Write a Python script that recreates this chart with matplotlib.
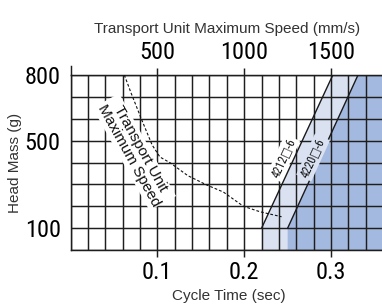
import numpy as np
import matplotlib
matplotlib.use("Agg")
import matplotlib.pyplot as plt

# ---- data ----
cycle_ticks = [0.1, 0.2, 0.3]
cycle_tick_labels = ["0.1", "0.2", "0.3"]
speed_ticks = [500, 1000, 1500]
speed_tick_labels = ["500", "1000", "1500"]
mass_ticks = [100, 500, 800]
mass_tick_labels = ["100", "500", "800"]

# transport unit maximum speed curve (cycle time s, head mass g)
tu_time = [0.062, 0.070, 0.082, 0.094, 0.103, 0.115, 0.135, 0.157, 0.176, 0.199, 0.218, 0.243]
tu_mass = [800, 715, 595, 480, 425, 398, 340, 297, 265, 200, 175, 152]

# model boundaries: (cycle time, mass) points
m4212_time = [0.22, 0.22, 0.302]
m4212_mass = [0, 100, 800]
m4220_time = [0.25, 0.25, 0.331]
m4220_mass = [0, 100, 800]

XMAX, YMAX = 0.36, 800
light_blue = "#dae2f2"
dark_blue = "#a4b9df"
grid_col = "#1e1e1e"

narrow = ["Roboto Condensed", "Liberation Sans Narrow", "Open Sans Condensed", "DejaVu Sans"]
plt.rcParams["font.family"] = ["Liberation Sans", "DejaVu Sans"]

W, H = 382, 304
fig = plt.figure(figsize=(W / 100, H / 100), dpi=100)
left_px, right_px, top_px, bot_px = 70.5, 383.2, 75, 250
ax = fig.add_axes([left_px / W, 1 - bot_px / H, (right_px - left_px) / W, (bot_px - top_px) / H])
ax.set_xlim(0, XMAX)
ax.set_ylim(0, YMAX)

# shaded regions
ax.fill(list(m4212_time) + [XMAX, XMAX], list(m4212_mass) + [YMAX, 0], color=light_blue, lw=0, zorder=0.3)
ax.fill(list(m4220_time) + [XMAX, XMAX], list(m4220_mass) + [YMAX, 0], color=dark_blue, lw=0, zorder=0.4)
ax.plot(m4212_time[1:], m4212_mass[1:], color="#1a1a1a", lw=1.0, zorder=3)
ax.plot(m4220_time[1:], m4220_mass[1:], color="#1a1a1a", lw=1.0, zorder=3)

tick_font = dict(family=narrow, fontstretch="condensed", fontsize=17.5)

# grid
ax.set_xticks(cycle_ticks)
ax.set_xticklabels(cycle_tick_labels, **tick_font)
ax.set_xticks(np.arange(0, XMAX + 0.001, 0.02), minor=True)
ax.set_yticks(mass_ticks)
ax.set_yticklabels(mass_tick_labels, **tick_font)
ax.set_yticks(np.arange(0, YMAX + 1, 100), minor=True)
ax.grid(which="both", color=grid_col, lw=1.05)
ax.set_axisbelow(False)
ax.tick_params(axis="x", which="major", direction="out", length=5, width=1.05, color=grid_col, pad=3)
ax.tick_params(axis="y", which="major", length=0, pad=7)
ax.tick_params(which="minor", length=0)
for s in ax.spines.values():
    s.set_color(grid_col)
    s.set_linewidth(1.05)
ax.spines["right"].set_visible(False)
ax.plot([0, 0], [YMAX, YMAX + 42], color=grid_col, lw=1.05, clip_on=False, zorder=3)

# top axis
sec = ax.secondary_xaxis("top", functions=(lambda t: np.asarray(t) * 5000, lambda s: np.asarray(s) / 5000))
sec.set_xticks(speed_ticks)
sec.set_xticklabels(speed_tick_labels, **tick_font)
sec.tick_params(direction="out", length=5, width=1.05, color=grid_col, pad=3)
sec.spines["top"].set_visible(False)
sec.set_xlabel("Transport Unit Maximum Speed (mm/s)", fontsize=11, color="#333333", labelpad=6)

ax.set_xlabel("Cycle Time (sec)", fontsize=11, color="#333333")
ax.xaxis.set_label_coords(0.505, -0.222)
ax.set_ylabel("Head Mass (g)", fontsize=11, color="#333333")
ax.yaxis.set_label_coords(-0.155, 0.5)

# transport unit curve and label
ax.plot(tu_time, tu_mass, color="#111111", lw=0.8, ls=(0, (2.5, 1.8)), zorder=5)
ax.text(0.0735, 448, "Transport Unit\nMaximum Speed", rotation=-61, rotation_mode="anchor",
        ha="center", va="center", fontsize=11, linespacing=0.92, color="#111111", zorder=4,
        bbox=dict(boxstyle="square,pad=0.1", fc="white", ec="none"))

# model labels
ax.text(0.2448, 420, "4212\u25a1-6", rotation=65.4, rotation_mode="anchor", ha="center", va="center",
        family=narrow, fontstretch="condensed", fontsize=8.5, color="#111111", zorder=4,
        bbox=dict(boxstyle="square,pad=0.15", fc="white", ec="none"))
ax.text(0.2793, 423, "4220\u25a1-6", rotation=65.4, rotation_mode="anchor", ha="center", va="center",
        family=narrow, fontstretch="condensed", fontsize=8.5, color="#111111", zorder=4,
        bbox=dict(boxstyle="square,pad=0.15", fc=light_blue, ec="none"))

fig.savefig("out.png", dpi=100)
